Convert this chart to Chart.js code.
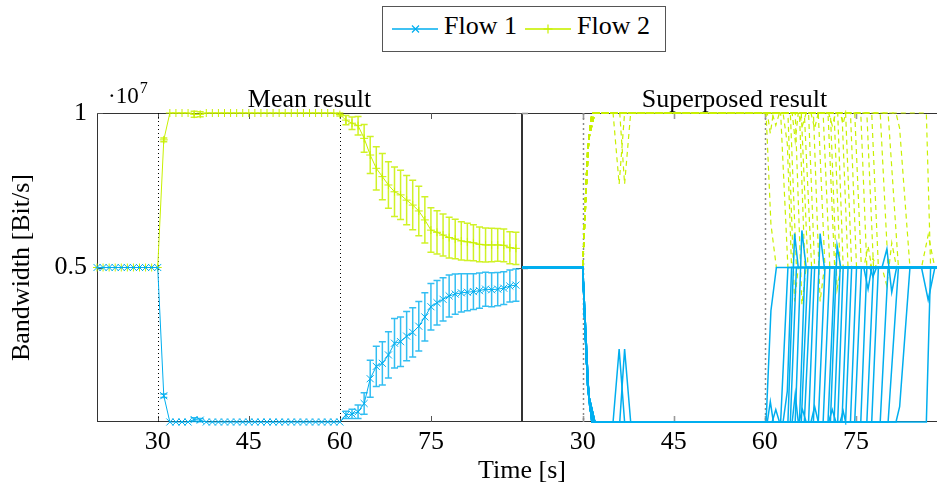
<!DOCTYPE html>
<html lang="en">
<head>
    <meta charset="UTF-8">
    <title>Bandwidth of two flows</title>
    <script src="https://cdn.jsdelivr.net/npm/chart.js"></script>
    <style>
        body {
            margin: 0;
            background: #fff;
        }

        #figure {
            position: relative;
            width: 937px;
            height: 492px;
            overflow: hidden;
            background: #fff;
            font-family: "Liberation Serif", "Times New Roman", serif;
            color: #000;
        }

        #figure canvas {
            position: absolute;
            top: 0;
        }

        /* Shared legend above both panels */
        .legend {
            position: absolute;
            left: 382px;
            top: 6px;
            width: 282px;
            height: 44px;
            border: 1px solid #555;
        }

        .legend svg {
            position: absolute;
            left: 0;
            top: 0;
        }

        .legend span {
            position: absolute;
            top: 6px;
            font-size: 26px;
            line-height: 26px;
            white-space: nowrap;
        }

        .x-title {
            position: absolute;
            left: 422px;
            top: 457px;
            width: 200px;
            text-align: center;
            font-size: 26px;
            line-height: 26px;
        }
    </style>
</head>
<body>
    <div id="figure">
        <div class="legend">
            <svg width="282" height="44">
                <line x1="9" y1="22" x2="55" y2="22" stroke="#00aeef" stroke-width="2" stroke-opacity="0.75"/>
                <path d="M29 18.5 L36 25.5 M36 18.5 L29 25.5" stroke="#00aeef" stroke-width="1.2" fill="none"/>
                <line x1="142" y1="22" x2="188" y2="22" stroke="#c8f000" stroke-width="2" stroke-opacity="0.8"/>
                <path d="M165 17.5 L165 26.5 M160.5 22 L169.5 22" stroke="#c8f000" stroke-width="1.2" fill="none"/>
            </svg>
            <span style="left:61px">Flow 1</span>
            <span style="left:194px">Flow 2</span>
        </div>
        <canvas id="mean-chart" width="522" height="492" style="left:0"></canvas>
        <canvas id="super-chart" width="425" height="492" style="left:522px"></canvas>
        <div class="x-title">Time [s]</div>
    </div>

    <script>
        // Axis setup (bandwidth in units of 10^7 Bit/s)
        const xTicks = [30, 45, 60, 75];
        const yTicks = [0.5, 1];
        const phaseTimes = [30, 60];

        // Mean over all runs, one sample per second
        const meanTime = [
            20, 21, 22, 23, 24, 25, 26, 27, 28, 29,
            30, 31, 32, 33, 34, 35, 36, 37, 38, 39,
            40, 41, 42, 43, 44, 45, 46, 47, 48, 49,
            50, 51, 52, 53, 54, 55, 56, 57, 58, 59,
            60, 61, 62, 63, 64, 65, 66, 67, 68, 69,
            70, 71, 72, 73, 74, 75, 76, 77, 78, 79,
            80, 81, 82, 83, 84, 85, 86, 87, 88, 89
        ];

        const flow1Mean = [
            .5, .5, .5, .5, .5, .5, .5, .5, .5, .5,
            .5, .085, 0, 0, 0, 0, .008, .006, 0, 0,
            0, 0, 0, 0, 0, 0, 0, 0, 0, 0,
            0, 0, 0, 0, 0, 0, 0, 0, 0, 0,
            0, .023, .026, .033, .06, .14, .18, .19, .217, .255,
            .26, .278, .29, .31, .34, .373, .386, .397, .408, .414,
            .418, .42, .422, .425, .43, .428, .43, .433, .44, .443
        ];

        const flow1Err = [
            0, 0, 0, 0, 0, 0, 0, 0, 0, 0,
            0, .006, 0, 0, 0, 0, .006, .005, 0, 0,
            0, 0, 0, 0, 0, 0, 0, 0, 0, 0,
            0, 0, 0, 0, 0, 0, 0, 0, 0, 0,
            0, .012, .015, .022, .035, .06, .065, .07, .075, .08,
            .08, .08, .08, .08, .078, .075, .072, .07, .068, .065,
            .062, .06, .058, .057, .055, .055, .054, .053, .052, .052
        ];

        const flow2Mean = [
            .5, .5, .5, .5, .5, .5, .5, .5, .5, .5,
            .5, .913, 1, 1, 1, 1, .996, .996, 1, 1,
            1, 1, 1, 1, 1, 1, 1, 1, 1, 1,
            1, 1, 1, 1, 1, 1, 1, 1, 1, 1,
            .995, .977, .967, .959, .918, .864, .821, .794, .767, .745,
            .735, .718, .702, .683, .654, .621, .614, .605, .597, .592,
            .586, .583, .58, .575, .573, .573, .573, .572, .564, .562
        ];

        const flow2Err = [
            0, 0, 0, 0, 0, 0, 0, 0, 0, 0,
            0, .006, 0, 0, 0, 0, .01, .008, 0, 0,
            0, 0, 0, 0, 0, 0, 0, 0, 0, 0,
            0, 0, 0, 0, 0, 0, 0, 0, 0, 0,
            .005, .015, .02, .03, .045, .06, .07, .075, .075, .08,
            .08, .08, .08, .08, .075, .072, .07, .068, .066, .064,
            .062, .06, .058, .056, .055, .054, .053, .053, .052, .052
        ];

        // Individual runs as [time, bandwidth] breakpoints
        const runsFlow1 = [
            [[20, .5], [30, .5], [30.4, .3], [31, .08], [31.8, 0], [60.2, 0], [61, .36], [61.9, .5], [90, .5]],
            [[20, .5], [30, .5], [30.6, .2], [31.2, .04], [32, 0], [35, 0], [36, .236], [36.9, 0], [62.6, 0], [63.8, .5], [90, .5]],
            [[20, .5], [30, .5], [30.3, .35], [30.8, .12], [31.5, 0], [36.1, 0], [36.9, .236], [37.9, 0], [63, 0], [63.7, .1], [64.4, .5], [90, .5]],
            [[20, .5], [30, .5], [31, .085], [32, 0], [63.8, 0], [64.9, .61], [65.5, .5], [90, .5]],
            [[20, .5], [30, .5], [30.4, .3], [31, .08], [31.8, 0], [60.4, 0], [60.9, .066], [61.4, 0], [64.2, 0], [65.2, .5], [90, .5]],
            [[20, .5], [30, .5], [30.6, .2], [31.2, .04], [32, 0], [65, 0], [66.1, .62], [66.8, .5], [90, .5]],
            [[20, .5], [30, .5], [30.3, .35], [30.8, .12], [31.5, 0], [64.5, 0], [65, .09], [65.5, 0], [65.7, 0], [66.6, .5], [90, .5]],
            [[20, .5], [30, .5], [31, .085], [32, 0], [66, 0], [67.1, .5], [90, .5]],
            [[20, .5], [30, .5], [30.4, .3], [31, .08], [31.8, 0], [61.2, 0], [61.8, .04], [62.4, 0], [66.5, 0], [67.7, .5], [90, .5]],
            [[20, .5], [30, .5], [30.6, .2], [31.2, .04], [32, 0], [67.2, 0], [68.2, .5], [90, .5]],
            [[20, .5], [30, .5], [30.3, .35], [30.8, .12], [31.5, 0], [68, 0], [69.1, .61], [69.8, .5], [90, .5]],
            [[20, .5], [30, .5], [31, .085], [32, 0], [65.6, 0], [66.2, .04], [66.8, 0], [68.8, 0], [69.9, .5], [90, .5]],
            [[20, .5], [30, .5], [30.4, .3], [31, .08], [31.8, 0], [69.6, 0], [70.7, .5], [90, .5]],
            [[20, .5], [30, .5], [30.6, .2], [31.2, .04], [32, 0], [67.6, 0], [68.2, .05], [68.8, 0], [70.4, 0], [71.5, .5], [90, .5]],
            [[20, .5], [30, .5], [30.3, .35], [30.8, .12], [31.5, 0], [70.8, 0], [71.9, .57], [72.5, .5], [90, .5]],
            [[20, .5], [30, .5], [31, .085], [32, 0], [71.4, 0], [72.4, .5], [90, .5]],
            [[20, .5], [30, .5], [30.4, .3], [31, .08], [31.8, 0], [70.5, 0], [71.1, .04], [71.7, 0], [72, 0], [72.9, .5], [90, .5]],
            [[20, .5], [30, .5], [30.6, .2], [31.2, .04], [32, 0], [72.7, 0], [73.7, .5], [90, .5]],
            [[20, .5], [30, .5], [30.3, .35], [30.8, .12], [31.5, 0], [72.4, 0], [72.9, .035], [73.3, 0], [74.3, .5], [90, .5]],
            [[20, .5], [30, .5], [31, .085], [32, 0], [74.1, 0], [75.1, .5], [79.3, .5], [80.1, .56], [80.9, .42], [81.7, .5], [90, .5]],
            [[20, .5], [30, .5], [30.4, .3], [31, .08], [31.8, 0], [74.8, 0], [75.9, .5], [76.3, .5], [77, .43], [77.6, .5], [90, .5]],
            [[20, .5], [30, .5], [30.6, .2], [31.2, .04], [32, 0], [75.8, 0], [76.8, .5], [77.3, .5], [77.8, .47], [78.4, .5], [90, .5]],
            [[20, .5], [30, .5], [30.3, .35], [30.8, .12], [31.5, 0], [76.8, 0], [77.9, .5], [90, .5]],
            [[20, .5], [30, .5], [31, .085], [32, 0], [77.6, 0], [78.7, .5], [90, .5]],
            [[20, .5], [30, .5], [30.4, .3], [31, .08], [31.8, 0], [79, 0], [80.3, .5], [85.8, .5], [86.9, .395], [88, .5], [90, .5]],
            [[20, .5], [30, .5], [30.6, .2], [31.2, .04], [32, 0], [80.3, 0], [82, .5], [90, .5]],
            [[20, .5], [30, .5], [30.3, .35], [30.8, .12], [31.5, 0], [81.6, 0], [82.2, .05], [83.9, .5], [90, .5]],
            [[20, .5], [30, .5], [31, .085], [32, 0], [86.6, 0], [87.3, .5], [90, .5]]
        ];

        const runsFlow2 = [
            [[20, .5], [30, .5], [30.4, .7], [31, .92], [31.8, 1], [60.2, 1], [61, .64], [61.9, .5], [90, .5]],
            [[20, .5], [30, .5], [30.6, .8], [31.2, .96], [32, 1], [35, 1], [36, .77], [36.9, 1], [62.6, 1], [63.8, .5], [90, .5]],
            [[20, .5], [30, .5], [30.3, .65], [30.8, .88], [31.5, 1], [36.1, 1], [36.9, .77], [37.9, 1], [63, 1], [63.7, .9], [64.4, .5], [90, .5]],
            [[20, .5], [30, .5], [31, .915], [32, 1], [63.8, 1], [64.9, .39], [65.5, .5], [90, .5]],
            [[20, .5], [30, .5], [30.4, .7], [31, .92], [31.8, 1], [60.4, 1], [60.9, .934], [61.4, 1], [64.2, 1], [65.2, .5], [90, .5]],
            [[20, .5], [30, .5], [30.6, .8], [31.2, .96], [32, 1], [65, 1], [66.1, .38], [66.8, .5], [90, .5]],
            [[20, .5], [30, .5], [30.3, .65], [30.8, .88], [31.5, 1], [64.5, 1], [65, .91], [65.5, 1], [65.7, 1], [66.6, .5], [90, .5]],
            [[20, .5], [30, .5], [31, .915], [32, 1], [66, 1], [67.1, .5], [90, .5]],
            [[20, .5], [30, .5], [30.4, .7], [31, .92], [31.8, 1], [61.2, 1], [61.8, .96], [62.4, 1], [66.5, 1], [67.7, .5], [90, .5]],
            [[20, .5], [30, .5], [30.6, .8], [31.2, .96], [32, 1], [67.2, 1], [68.2, .5], [90, .5]],
            [[20, .5], [30, .5], [30.3, .65], [30.8, .88], [31.5, 1], [68, 1], [69.1, .39], [69.8, .5], [90, .5]],
            [[20, .5], [30, .5], [31, .915], [32, 1], [65.6, 1], [66.2, .96], [66.8, 1], [68.8, 1], [69.9, .5], [90, .5]],
            [[20, .5], [30, .5], [30.4, .7], [31, .92], [31.8, 1], [69.6, 1], [70.7, .5], [90, .5]],
            [[20, .5], [30, .5], [30.6, .8], [31.2, .96], [32, 1], [67.6, 1], [68.2, .95], [68.8, 1], [70.4, 1], [71.5, .5], [90, .5]],
            [[20, .5], [30, .5], [30.3, .65], [30.8, .88], [31.5, 1], [70.8, 1], [71.9, .43], [72.5, .5], [90, .5]],
            [[20, .5], [30, .5], [31, .915], [32, 1], [71.4, 1], [72.4, .5], [90, .5]],
            [[20, .5], [30, .5], [30.4, .7], [31, .92], [31.8, 1], [70.5, 1], [71.1, .96], [71.7, 1], [72, 1], [72.9, .5], [90, .5]],
            [[20, .5], [30, .5], [30.6, .8], [31.2, .96], [32, 1], [72.7, 1], [73.7, .5], [90, .5]],
            [[20, .5], [30, .5], [30.3, .65], [30.8, .88], [31.5, 1], [72.4, 1], [72.9, .965], [73.3, 1], [74.3, .5], [90, .5]],
            [[20, .5], [30, .5], [31, .915], [32, 1], [74.1, 1], [75.1, .5], [79.3, .5], [80.1, .44], [80.9, .58], [81.7, .5], [90, .5]],
            [[20, .5], [30, .5], [30.4, .7], [31, .92], [31.8, 1], [74.8, 1], [75.9, .5], [76.3, .5], [77, .57], [77.6, .5], [90, .5]],
            [[20, .5], [30, .5], [30.6, .8], [31.2, .96], [32, 1], [75.8, 1], [76.8, .5], [77.3, .5], [77.8, .53], [78.4, .5], [90, .5]],
            [[20, .5], [30, .5], [30.3, .65], [30.8, .88], [31.5, 1], [76.8, 1], [77.9, .5], [90, .5]],
            [[20, .5], [30, .5], [31, .915], [32, 1], [77.6, 1], [78.7, .5], [90, .5]],
            [[20, .5], [30, .5], [30.4, .7], [31, .92], [31.8, 1], [79, 1], [80.3, .5], [85.8, .5], [86.9, .605], [88, .5], [90, .5]],
            [[20, .5], [30, .5], [30.6, .8], [31.2, .96], [32, 1], [80.3, 1], [82, .5], [90, .5]],
            [[20, .5], [30, .5], [30.3, .65], [30.8, .88], [31.5, 1], [81.6, 1], [82.2, .95], [83.9, .5], [90, .5]],
            [[20, .5], [30, .5], [31, .915], [32, 1], [86.6, 1], [87.3, .5], [90, .5]]
        ];

        const BLUE = '#00aeef';
        const LIME = '#c8f000';
        const SERIF = '"Liberation Serif", "Times New Roman", serif';

        Chart.defaults.font.family = SERIF;
        Chart.defaults.font.size = 26;
        Chart.defaults.color = '#000';

        // Frame, inward ticks, dotted phase lines, error bars and panel titles
        const panelDecor = {
            id: 'panelDecor',
            beforeDatasetsDraw(chart, args, opts) {
                const { ctx, chartArea: a, scales: { x, y } } = chart;
                ctx.save();

                ctx.strokeStyle = '#333';
                ctx.lineWidth = 1;
                ctx.strokeRect(a.left + 0.5, a.top + 0.5, a.width - 1, a.height - 1);

                ctx.strokeStyle = opts.tickColor;
                ctx.lineWidth = opts.tickWidth;
                xTicks.forEach(v => {
                    const px = Math.round(x.getPixelForValue(v)) + 0.5;
                    ctx.beginPath();
                    ctx.moveTo(px, a.bottom);
                    ctx.lineTo(px, a.bottom - 6);
                    ctx.moveTo(px, a.top);
                    ctx.lineTo(px, a.top + 6);
                    ctx.stroke();
                });
                yTicks.forEach(v => {
                    const py = Math.round(y.getPixelForValue(v)) + 0.5;
                    ctx.beginPath();
                    ctx.moveTo(a.left, py);
                    ctx.lineTo(a.left + 6, py);
                    ctx.stroke();
                    ctx.beginPath();
                    ctx.moveTo(a.right, py);
                    ctx.lineTo(a.right - 6, py);
                    ctx.stroke();
                });

                ctx.setLineDash(opts.dotDash);
                ctx.strokeStyle = opts.dotColor;
                ctx.lineWidth = opts.dotWidth;
                phaseTimes.forEach(t => {
                    const px = Math.round(x.getPixelForValue(t)) + 0.5;
                    ctx.beginPath();
                    ctx.moveTo(px, a.top);
                    ctx.lineTo(px, a.bottom);
                    ctx.stroke();
                });
                ctx.setLineDash([]);

                chart.data.datasets.forEach(ds => {
                    if (!ds.err) return;
                    ctx.strokeStyle = ds.errColor;
                    ctx.lineWidth = 1.5;
                    ctx.beginPath();
                    ds.data.forEach((p, i) => {
                        const e = ds.err[i];
                        if (!e) return;
                        const px = x.getPixelForValue(p.x);
                        const top = y.getPixelForValue(p.y + e);
                        const bot = y.getPixelForValue(p.y - e);
                        ctx.moveTo(px, top);
                        ctx.lineTo(px, bot);
                        ctx.moveTo(px - 3.5, top);
                        ctx.lineTo(px + 3.5, top);
                        ctx.moveTo(px - 3.5, bot);
                        ctx.lineTo(px + 3.5, bot);
                    });
                    ctx.stroke();
                });
                ctx.restore();
            },
            afterDraw(chart, args, opts) {
                const { ctx, chartArea: a } = chart;
                ctx.save();
                ctx.fillStyle = '#000';
                ctx.textAlign = 'center';
                ctx.textBaseline = 'alphabetic';
                ctx.font = '26px ' + SERIF;
                ctx.fillText(opts.title, (a.left + a.right) / 2, 107);
                if (opts.exponent) {
                    ctx.textAlign = 'left';
                    ctx.font = '23px ' + SERIF;
                    ctx.fillText('\u00b710', 108, 103);
                    const w = ctx.measureText('\u00b710').width;
                    ctx.font = '16px ' + SERIF;
                    ctx.fillText('7', 108 + w + 1, 93);
                }
                ctx.restore();
            }
        };

        function xScale(height) {
            return {
                type: 'linear',
                min: 20,
                max: 90,
                grid: { display: false, drawTicks: false },
                border: { display: false },
                afterBuildTicks: s => { s.ticks = xTicks.map(v => ({ value: v })); },
                afterFit: s => { s.height = height; },
                ticks: { padding: 5, autoSkip: false, maxRotation: 0, callback: v => String(v) }
            };
        }

        // Left panel: mean with error bars
        const meanChart = new Chart(document.getElementById('mean-chart'), {
            type: 'line',
            data: {
                datasets: [
                    {
                        label: 'Flow 1',
                        data: meanTime.map((t, i) => ({ x: t, y: flow1Mean[i] })),
                        err: flow1Err,
                        errColor: 'rgba(0, 174, 239, 0.8)',
                        borderColor: BLUE,
                        borderWidth: 1,
                        pointStyle: 'crossRot',
                        pointRadius: 5,
                        pointBorderWidth: 1,
                        pointBorderColor: BLUE,
                        pointBackgroundColor: BLUE,
                        clip: false
                    },
                    {
                        label: 'Flow 2',
                        data: meanTime.map((t, i) => ({ x: t, y: flow2Mean[i] })),
                        err: flow2Err,
                        errColor: 'rgba(200, 240, 0, 0.85)',
                        borderColor: LIME,
                        borderWidth: 1,
                        pointStyle: 'cross',
                        pointRadius: 4,
                        pointBorderWidth: 1,
                        pointBorderColor: LIME,
                        pointBackgroundColor: LIME,
                        clip: false
                    }
                ]
            },
            options: {
                responsive: false,
                animation: false,
                devicePixelRatio: 1,
                layout: { padding: { top: 113, left: 0, right: 0, bottom: 0 }, autoPadding: false },
                plugins: {
                    legend: { display: false },
                    tooltip: { enabled: false },
                    panelDecor: {
                        title: 'Mean result',
                        exponent: true,
                        tickColor: '#555',
                        tickWidth: 1,
                        dotColor: '#000',
                        dotWidth: 1,
                        dotDash: [1, 3]
                    }
                },
                scales: {
                    x: xScale(70),
                    y: {
                        type: 'linear',
                        min: 0,
                        max: 1,
                        grid: { display: false, drawTicks: false },
                        border: { display: false },
                        afterBuildTicks: s => { s.ticks = yTicks.map(v => ({ value: v })); },
                        afterFit: s => { s.width = 97; },
                        ticks: { padding: 10, callback: v => String(v) },
                        title: { display: true, text: 'Bandwidth [Bit/s]', padding: { top: 7, bottom: 0 } }
                    }
                }
            },
            plugins: [panelDecor]
        });

        // Right panel: every run drawn on top of each other, Flow 1 in front
        const superSets = [];
        runsFlow1.forEach(run => {
            superSets.push({
                data: run.map(([t, v]) => ({ x: t, y: v })),
                borderColor: BLUE,
                borderWidth: 1.5,
                pointRadius: 0,
                clip: 3
            });
        });
        runsFlow2.forEach(run => {
            superSets.push({
                data: run.map(([t, v]) => ({ x: t, y: v })),
                borderColor: LIME,
                borderWidth: 1.2,
                borderDash: [5, 4],
                pointRadius: 0,
                clip: 3
            });
        });

        const superChart = new Chart(document.getElementById('super-chart'), {
            type: 'line',
            data: { datasets: superSets },
            options: {
                responsive: false,
                animation: false,
                devicePixelRatio: 1,
                layout: { padding: { top: 113, left: 0, right: 0, bottom: 0 }, autoPadding: false },
                plugins: {
                    legend: { display: false },
                    tooltip: { enabled: false },
                    panelDecor: {
                        title: 'Superposed result',
                        exponent: false,
                        tickColor: '#999',
                        tickWidth: 1.6,
                        dotColor: '#8a8a8a',
                        dotWidth: 1.5,
                        dotDash: [2, 3]
                    }
                },
                scales: {
                    x: xScale(70),
                    y: { type: 'linear', min: 0, max: 1, display: false }
                }
            },
            plugins: [panelDecor]
        });
    </script>
</body>
</html>
